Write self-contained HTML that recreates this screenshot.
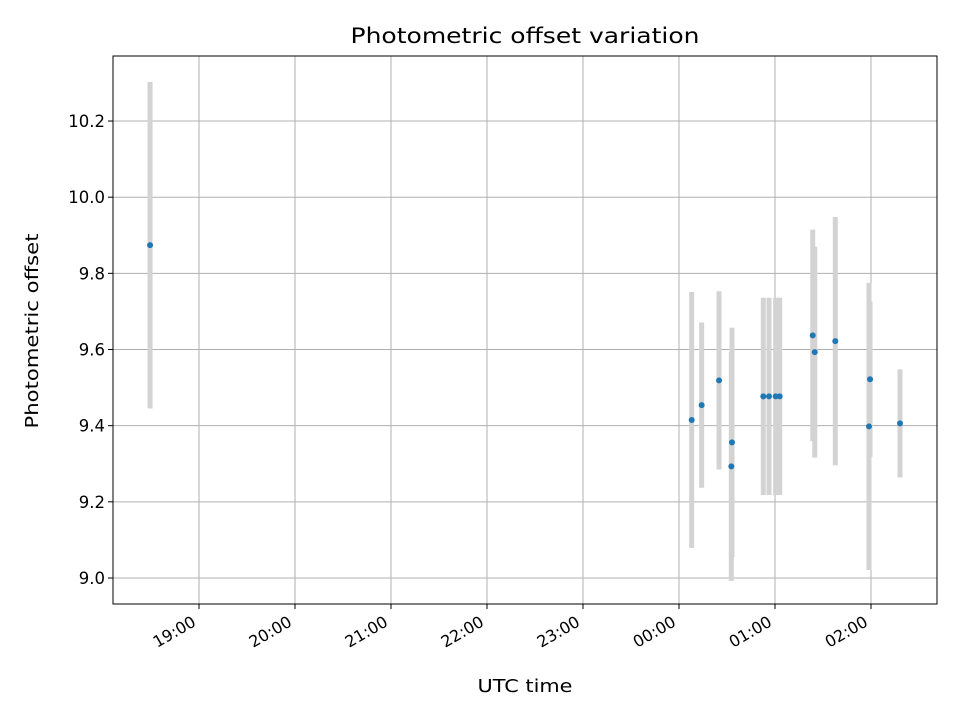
<!DOCTYPE html>
<html><head><meta charset="utf-8"><style>
body{margin:0;background:#fff;font-family:"Liberation Sans","DejaVu Sans",sans-serif}
</style></head><body>
<svg id="chart" width="960" height="720" xmlns="http://www.w3.org/2000/svg" font-family="DejaVu Sans, Liberation Sans, sans-serif"></svg>
<script>
// Hours relative to 00:00 UTC
const times = [-5.51,0.132,0.236,0.417,0.552,0.545,0.878,0.9375,1.007,1.049,1.393,1.414,1.628,1.990,1.979,2.302];
const offsets = [9.874,9.415,9.454,9.519,9.356,9.293,9.477,9.477,9.477,9.477,9.637,9.593,9.622,9.522,9.398,9.406];
const errors = [0.429,0.336,0.217,0.234,0.301,0.301,0.259,0.259,0.259,0.259,0.278,0.277,0.326,0.204,0.377,0.142];
const xTicks = [-5,-4,-3,-2,-1,0,1,2];
const xTickLabels = ["19:00","20:00","21:00","22:00","23:00","00:00","01:00","02:00"];
const yTicks = [9.0,9.2,9.4,9.6,9.8,10.0,10.2];
const yTickLabels = ["9.0","9.2","9.4","9.6","9.8","10.0","10.2"];

const L=113,R=937,T=56,B=604;
const xMin=-5.896,xMax=2.6875,yMin=8.9317,yMax=10.3708;
const xs=v=>L+(v-xMin)/(xMax-xMin)*(R-L);
const ys=v=>B-(v-yMin)/(yMax-yMin)*(B-T);
const svg=document.getElementById('chart');
const NS='http://www.w3.org/2000/svg';
function mk(tag,attrs,parent){const e=document.createElementNS(NS,tag);for(const k in attrs)e.setAttribute(k,attrs[k]);(parent||svg).appendChild(e);return e;}

const grid=mk('g',{});


xTicks.forEach((t,i)=>{
  const x=xs(t);
  mk('line',{x1:x,x2:x,y1:T,y2:B,stroke:'#b0b0b0','stroke-width':1},grid);
  mk('line',{x1:x,x2:x,y1:B,y2:B+5,stroke:'#000','stroke-width':1},grid);
  const px=x-2, py=B+21;
  const tx=mk('text',{x:px,y:py,'font-size':16,'text-anchor':'end',transform:`rotate(-30 ${px} ${py})`});
  
  
  tx.textContent=xTickLabels[i];
});
yTicks.forEach((t,i)=>{
  const y=ys(t);
  mk('line',{x1:L,x2:R,y1:y,y2:y,stroke:'#b0b0b0','stroke-width':1},grid);
  mk('line',{x1:L-5,x2:L,y1:y,y2:y,stroke:'#000','stroke-width':1},grid);
  const tx=mk('text',{x:L-8,y:y+6,'font-size':16.5,'text-anchor':'end'});
  
  
  tx.textContent=yTickLabels[i];
});
const eb=mk('g',{});


times.forEach((t,i)=>{
  const l=mk('line',{x1:xs(t),x2:xs(t),y1:ys(offsets[i]+errors[i]),y2:ys(offsets[i]-errors[i]),stroke:'#d3d3d3','stroke-width':5},eb);
  
  
});
const pts=mk('g',{});


times.forEach((t,i)=>{
  const c=mk('circle',{cx:xs(t),cy:ys(offsets[i]),r:3,fill:'#1f77b4'},pts);
  
  
});
const frame=mk('rect',{x:L,y:T,width:R-L,height:B-T,fill:'none',stroke:'#000','stroke-width':1});


const title=mk('text',{x:(L+R)/2,y:43,'font-size':21,'text-anchor':'middle',textLength:349,lengthAdjust:'spacingAndGlyphs'});


title.textContent='Photometric offset variation';
const xt=mk('text',{x:525,y:692,'font-size':17.5,'text-anchor':'middle',textLength:95,lengthAdjust:'spacingAndGlyphs'});


xt.textContent='UTC time';
const yt=mk('text',{x:38,y:331,'font-size':17.5,'text-anchor':'middle',textLength:195,lengthAdjust:'spacingAndGlyphs',transform:'rotate(-90 38 331)'});


yt.textContent='Photometric offset';
</script>
</body></html>
